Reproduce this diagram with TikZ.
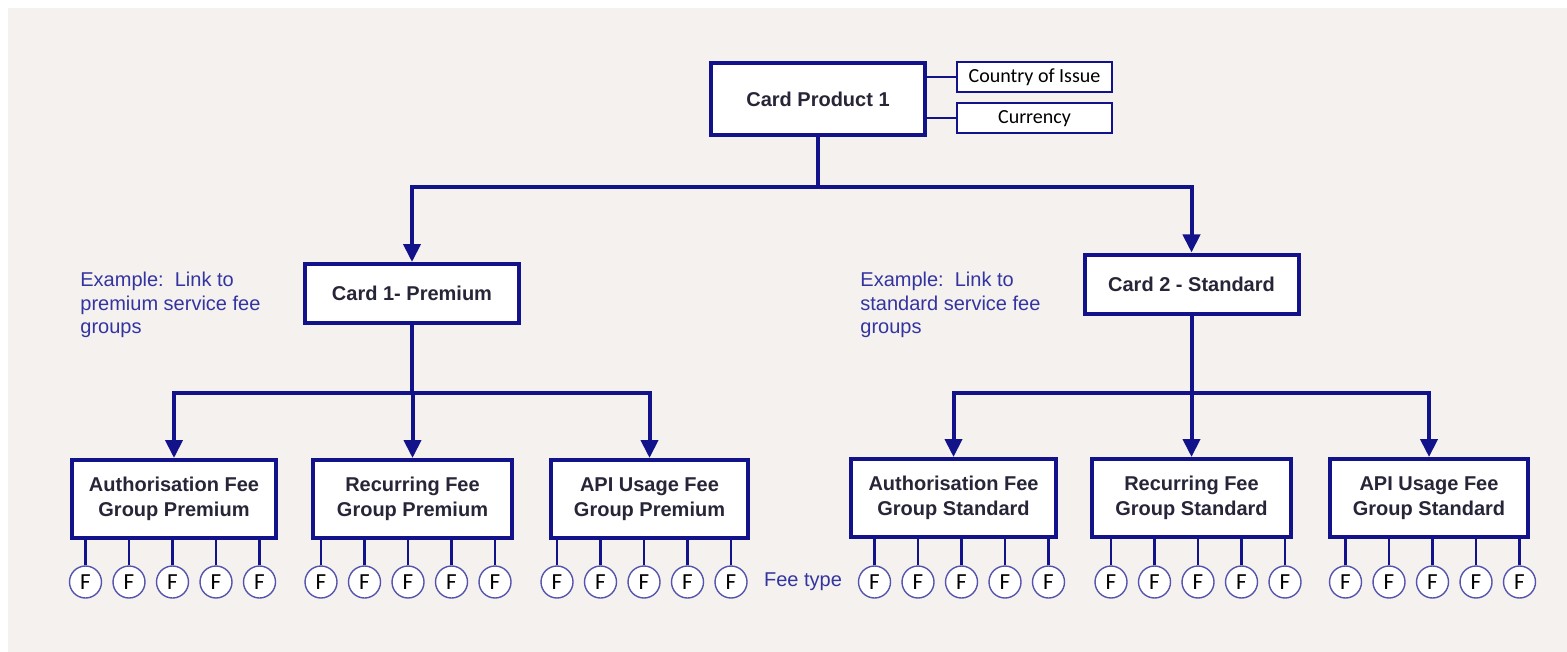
\documentclass[tikz,border=0pt]{standalone}
\usepackage{fontspec}
\setmainfont{Liberation Sans}
\newfontfamily\calibri{Carlito}
\usetikzlibrary{arrows.meta}
\usetikzlibrary{positioning}
\definecolor{navy}{RGB}{18,18,138}
\definecolor{notecol}{RGB}{52,52,160}
\definecolor{boxtext}{RGB}{38,38,56}
\definecolor{panel}{RGB}{244,241,238}
\definecolor{ring}{RGB}{84,84,172}

\begin{document}
\begin{tikzpicture}[x=0.5pt,y=-0.5pt,
  box/.style={draw=navy,fill=white,line width=2pt,text=boxtext,align=center,
    inner sep=0pt,font=\bfseries\fontsize{10}{12.5}\selectfont},
  cardbox/.style={box,minimum width=107pt,minimum height=29.5pt},
  groupbox/.style={box,minimum width=99.5pt,minimum height=39pt},
  attrbox/.style={draw=navy,fill=white,line width=1pt,minimum width=77.5pt,
    minimum height=15pt,inner sep=0pt,font=\calibri},
  fee/.style={circle,draw=ring,fill=white,line width=0.7pt,minimum size=16pt,
    inner sep=0pt,font=\calibri\fontsize{11.5}{11.5}\selectfont},
  note/.style={text=notecol,inner sep=0pt,align=left,
    font=\fontsize{10}{11.75}\selectfont},
  link/.style={draw=navy,line width=2pt,-{Triangle[width=8.5pt,length=9pt]}},
  attrlink/.style={draw=navy,line width=1pt},
  stub/.style={draw=navy,line width=1.2pt}]
\useasboundingbox (0,0) rectangle (1567,652);
\fill[panel] (8,8) rectangle (1567,652);

\node[box,minimum width=107pt,minimum height=36pt] (cp1) at (818,99) {Card Product 1};
\node[attrbox] (country) at (1034.5,77) {Country of Issue};
\node[attrbox,below=4.75pt of country] (currency) {Currency};
\draw[attrlink] (country.west) -- (country.west -| cp1.east);
\draw[attrlink] (currency.west) -- (currency.west -| cp1.east);

\node[cardbox] (card1) at (412,293.5) {Card 1- Premium};
\node[cardbox] (card2) at (1191.5,284) {Card 2 - Standard};
\node[note,anchor=north west] (notep) at (80,272) {Example:\ \ Link to\\premium service fee\\groups};
\node[note,anchor=north west] (notes) at (860,272) {Example:\ \ Link to\\standard service fee\\groups};

\coordinate (bus) at (818,187);
\draw[link] (cp1.south) -- (bus) -| (card1.north);
\draw[link] (cp1.south) -- (bus) -| (card2.north);

\node[groupbox,minimum width=102pt] (authP) at (174,499) {Authorisation Fee\\Group Premium};
\node[groupbox] (recP) at (412.5,499) {Recurring Fee\\Group Premium};
\node[groupbox,minimum width=98.5pt] (apiP) at (649.5,499) {API Usage Fee\\Group Premium};
\node[groupbox,minimum width=102.5pt] (authS) at (953.5,498) {Authorisation Fee\\Group Standard};
\node[groupbox] (recS) at (1191.5,498) {Recurring Fee\\Group Standard};
\node[groupbox,minimum width=99pt] (apiS) at (1429,498) {API Usage Fee\\Group Standard};

\coordinate (busP) at (412,393);
\coordinate (busS) at (1191.5,393);
\foreach \g in {authP,recP,apiP}
  \draw[link] (card1.south) -- (busP) -| (\g.north);
\foreach \g in {authS,recS,apiS}
  \draw[link] (card2.south) -- (busS) -| (\g.north);

\foreach \g/\c in {authP/172.5,recP/408,apiP/644,authS/961.5,recS/1198,apiS/1432.5}
  \foreach \d [count=\i] in {-87,-43.5,0,43.5,87} {
    \node[fee] (\g-f\i) at (\c+\d,582) {F};
    \draw[stub] (\g-f\i.north) -- (\g-f\i.north |- \g.south);
  }
\node[note,right=8pt of apiP-f5] (feetype) {Fee type};
\end{tikzpicture}
\end{document}
